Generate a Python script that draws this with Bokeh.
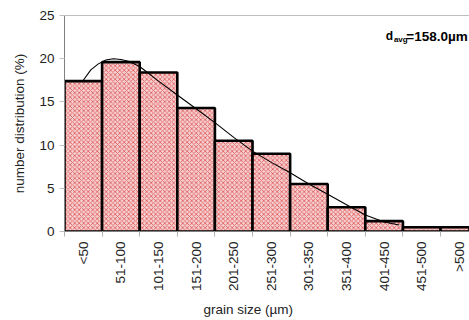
from bokeh.plotting import figure
from bokeh.models import FixedTicker, Span, Label
from bokeh.embed import file_html
from bokeh.resources import INLINE

# ---- data ----
categories = ["<50", "51-100", "101-150", "151-200", "201-250", "251-300",
              "301-350", "351-400", "401-450", "451-500", ">500"]
distribution = [17.4, 19.6, 18.4, 14.3, 10.5, 9.0, 5.5, 2.8, 1.2, 0.5, 0.5]

# fitted curve, x in category-index units
fit_x = [0.0, 0.2, 0.4, 0.6, 0.8, 1.0, 1.2, 1.5, 2.0, 2.5, 3.0, 3.5, 4.0,
         4.5, 5.0, 5.5, 6.0, 6.5, 7.0, 7.5, 8.0, 8.4]
fit_y = [17.5, 18.7, 19.4, 19.85, 20.0, 19.9, 19.7, 19.1, 17.4, 15.8, 14.2,
         12.6, 10.9, 9.3, 8.0, 6.8, 5.5, 4.3, 3.1, 1.9, 1.1, 0.75]

y_ticks = [0, 5, 10, 15, 20, 25]
avg_label = "158.0"
x_title = "grain size (\u00b5m)"
y_title = "number distribution (%)"

FONT = "Liberation Sans"
FS = "13.5px"

idx = list(range(len(categories)))

p = figure(width=469, height=320, output_backend="svg", toolbar_location=None,
           x_range=(-0.5, 10.27), y_range=(0, 25),
           min_border_left=64, min_border_right=0, min_border_top=15,
           min_border_bottom=87)
p.grid.visible = False
p.outline_line_color = None
p.background_fill_color = "white"
p.border_fill_color = "white"

p.vbar(x=idx, top=distribution, width=1.0, bottom=0,
       fill_color="#f6cfcf", hatch_pattern="diagonal_cross",
       hatch_color="#e06262", hatch_scale=4.5, hatch_weight=0.9,
       line_color="black", line_width=2.6)

p.line(fit_x, fit_y, line_color="black", line_width=1.1)

# top border of the plot area
p.add_layout(Span(location=25, dimension="width", line_color="#808080",
                  line_width=1.2))

# x axis
boundaries = [i - 0.5 for i in range(len(categories) + 1)]
p.xaxis.ticker = FixedTicker(ticks=idx, minor_ticks=boundaries)
p.xaxis.major_label_overrides = {i: c for i, c in enumerate(categories)}
p.xaxis.major_label_orientation = 1.5708
p.xaxis.major_tick_line_color = None
p.xaxis.major_tick_out = 3
p.xaxis.major_tick_in = 0
p.xaxis.minor_tick_line_color = "#b0b0b0"
p.xaxis.minor_tick_out = 5
p.xaxis.minor_tick_in = 0
p.xaxis.major_label_standoff = 5
p.xaxis.axis_line_color = "#808080"
p.xaxis.major_label_text_font = FONT
p.xaxis.major_label_text_font_size = FS
p.xaxis.major_label_text_color = "#222222"
# trailing no-break spaces shift the centred title left, as in the original
p.xaxis.axis_label = x_title + "\u00a0" * 10
p.xaxis.axis_label_text_font = FONT
p.xaxis.axis_label_text_font_size = FS
p.xaxis.axis_label_text_font_style = "normal"
p.xaxis.axis_label_text_color = "#222222"
p.xaxis.axis_label_standoff = 8

# y axis
p.yaxis.ticker = FixedTicker(ticks=y_ticks)
p.yaxis.minor_tick_line_color = None
p.yaxis.major_tick_line_color = "#c0c0c0"
p.yaxis.major_tick_out = 5
p.yaxis.major_tick_in = 0
p.yaxis.major_label_standoff = 5
p.yaxis.axis_line_color = "#808080"
p.yaxis.major_label_text_font = FONT
p.yaxis.major_label_text_font_size = FS
p.yaxis.major_label_text_color = "#222222"
p.yaxis.axis_label = y_title
p.yaxis.axis_label_text_font = FONT
p.yaxis.axis_label_text_font_size = FS
p.yaxis.axis_label_text_font_style = "normal"
p.yaxis.axis_label_text_color = "#222222"
p.yaxis.axis_label_standoff = 9

# d_avg annotation
p.add_layout(Label(x=8.04, y=22.6, text="d", text_font=FONT,
                   text_font_size="12px", text_font_style="bold",
                   text_color="black", text_baseline="alphabetic"))
p.add_layout(Label(x=8.26, y=22.2, text="avg", text_font=FONT,
                   text_font_size="8px", text_font_style="bold",
                   text_color="black", text_baseline="alphabetic"))
p.add_layout(Label(x=8.59, y=22.6, text="=" + avg_label + "\u00b5m", text_font=FONT,
                   text_font_size="13.5px", text_font_style="bold",
                   text_color="black", text_baseline="alphabetic"))

open("out.html", "w").write(file_html(p, INLINE))
